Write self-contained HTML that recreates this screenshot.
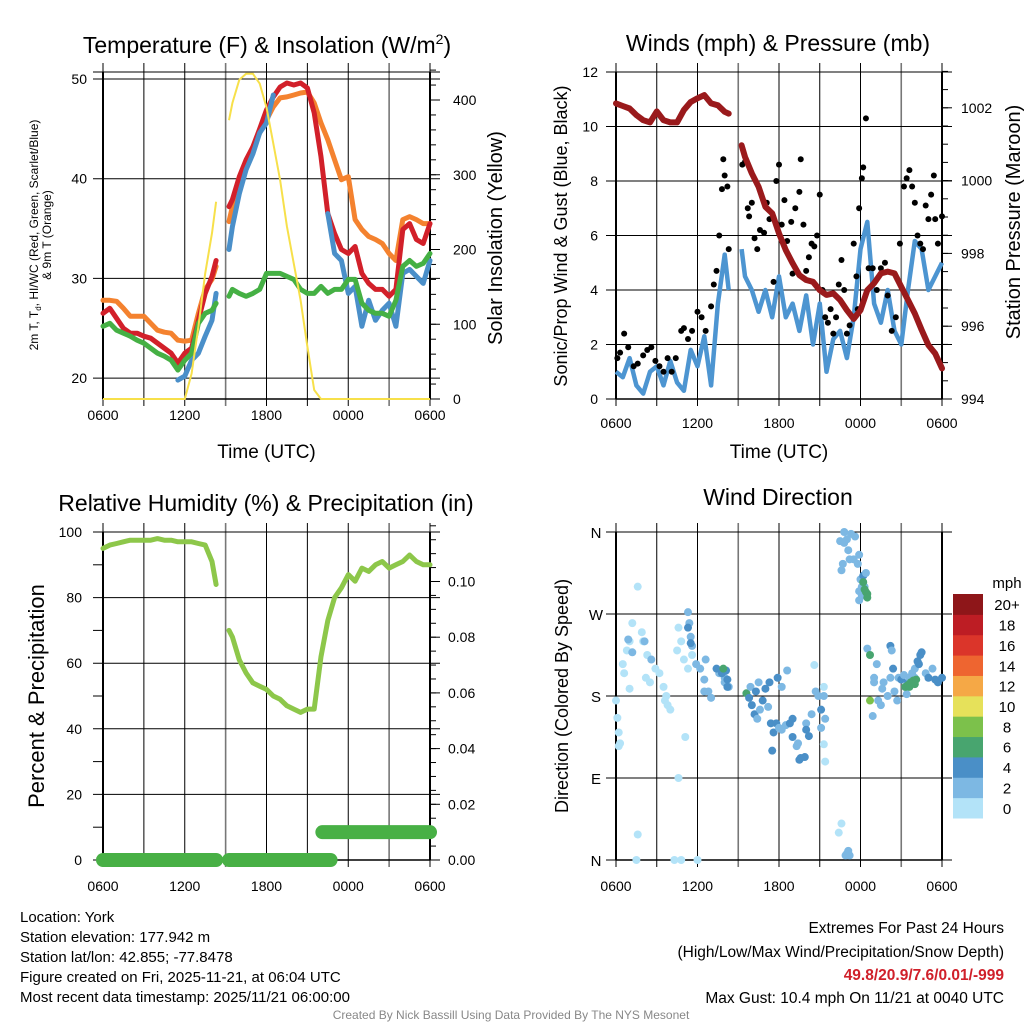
<!DOCTYPE html>
<html><head><meta charset="utf-8">
<style>
html,body{margin:0;padding:0;background:#fff;}
svg{display:block;font-family:"Liberation Sans",sans-serif;}
</style></head>
<body>
<svg id="fig" width="1024" height="1024" viewBox="0 0 1024 1024" xmlns="http://www.w3.org/2000/svg">
<rect width="1024" height="1024" fill="#fff"/>
<g id="g1"></g>
<g id="g2"></g>
<g id="g3"></g>
<g id="g4"></g>
<text x="267" y="53" font-size="23" text-anchor="middle">Temperature (F) &amp; Insolation (W/m<tspan font-size="14" dy="-9">2</tspan><tspan dy="9">)</tspan></text>
<text x="778" y="51" font-size="23" text-anchor="middle">Winds (mph) &amp; Pressure (mb)</text>
<text x="266" y="511" font-size="23" text-anchor="middle">Relative Humidity (%) &amp; Precipitation (in)</text>
<text x="778" y="505" font-size="23" text-anchor="middle">Wind Direction</text>
<g font-size="15">
<text x="20" y="922">Location: York</text>
<text x="20" y="942">Station elevation: 177.942 m</text>
<text x="20" y="962">Station lat/lon: 42.855; -77.8478</text>
<text x="20" y="982">Figure created on Fri, 2025-11-21, at 06:04 UTC</text>
<text x="20" y="1002">Most recent data timestamp: 2025/11/21 06:00:00</text>
</g>
<g font-size="15.5" text-anchor="end">
<text x="1004" y="933">Extremes For Past 24 Hours</text>
<text x="1004" y="957">(High/Low/Max Wind/Precipitation/Snow Depth)</text>
<text x="1004" y="980" fill="#d0202a" font-weight="bold">49.8/20.9/7.6/0.01/-999</text>
<text x="1004" y="1003">Max Gust: 10.4 mph On 11/21 at 0040 UTC</text>
</g>
<text x="511" y="1019" font-size="12" fill="#888" text-anchor="middle">Created By Nick Bassill Using Data Provided By The NYS Mesonet</text>
</svg>
<script>
// ---------- data ----------
const hours = [0,0.5,1,1.5,2,2.5,3,3.5,4,4.5,5,5.5,6,6.5,7,7.5,8,8.3,9.25,9.5,10,10.5,11,11.5,12,12.5,13,13.5,14,14.5,15,15.5,16,16.5,17,17.5,18,18.5,19,19.5,20,20.5,21,21.5,22,22.5,23,23.5,24];
const tempRed = [26.5,27,26,25,24.5,24.5,24.2,24,23.5,23,22.5,21.5,22.5,23,25.8,28.5,30.2,31.8,37.2,37.9,40.2,41.9,43.2,45,46.9,48.2,49.2,49.6,49.4,49.6,49.1,46.6,42.2,36.5,34.5,32.9,32.5,33.2,30.5,29.5,28.9,28.9,28.2,28.9,34.9,35.5,33.9,33.5,35.5];
const temp9m = [27.8,27.8,27.7,27,26.2,26.2,26.2,25.5,24.8,24.6,24.5,23.8,23.7,23.8,26.5,28.9,29.9,31.2,35.7,37.2,39.5,41.5,43.2,44.6,45.9,47.2,48.1,48.2,48.4,48.6,48.7,47.6,45.6,43.9,41.9,39.9,40.2,35.9,34.9,34.2,33.9,33.5,32.5,31.8,35.9,36.2,35.9,35.5,35.5];
const dewpt = [25.2,25.5,24.8,24.5,24.2,23.8,23.5,23,22.5,22.2,21.8,20.8,21.8,22.5,25.5,26.5,26.8,27.5,28.2,28.9,28.5,28.2,28.5,28.9,30.5,30.5,30.5,30.2,29.9,28.9,28.5,28.5,29.2,28.5,28.9,28.9,29.9,29.9,27.5,26.8,26.5,26.5,26.2,27.8,31.2,31.8,31.2,31.5,32.5];
const hiwc = [null,null,null,null,null,null,null,null,null,null,null,19.8,20.2,21.8,22.5,24.2,25.8,28.5,32.9,35.2,38.5,40.9,42.5,44.6,45.6,48.4,null,null,null,null,null,null,null,36.5,32.5,31.8,28.5,29.2,25.2,27.8,25.8,26.8,27.5,25.2,30.5,30.9,30.2,29.5,31.8];
const solar = [0,0,0,0,0,0,0,0,0,0,0,0,0,34,97,168,222,264,373,396,427,435,435,422,390,342,293,231,181,132,70,12,0,0,0,0,0,0,0,0,0,0,0,0,0,0,0,0,0];
const pressure = [1002.12,1002.05,1001.98,1001.8,1001.66,1001.6,1001.9,1001.66,1001.6,1001.6,1001.94,1002.16,1002.26,1002.35,1002.12,1002.07,1001.89,1001.84,1000.97,1000.65,1000.2,999.83,999.28,999.1,998.55,998.09,997.73,997.4,997.27,997.22,996.99,996.86,996.9,996.72,996.44,996.2,996.44,996.99,997.18,997.45,997.5,997.45,997.08,996.72,996.35,995.9,995.48,995.25,994.84];
const windSpd = [1.0,0.8,1.5,0.5,0.2,1.0,1.2,0.5,1.4,0.6,0.3,1.8,1.2,2.3,0.5,3.5,5.3,4.0,5.5,4.5,4.0,3.2,4.0,3.0,4.5,3.0,3.5,2.5,3.8,2.0,3.5,1.0,2.2,2.5,1.5,3.0,5.5,6.5,3.5,2.8,4.0,2.5,2.0,4.0,5.8,5.5,4.0,4.5,5.0];
const rh = [95,96,96.5,97,97.5,97.5,97.5,97.5,98,97.5,97.5,97,97,97,96.5,96,91,84,70,68,61,57,54,53,52,50,49,47,46,45,46,46,62,73,80,83,87,85,89,88,90,91,89,90,91,93,91,90,90];
const gustHours = [0.1,0.3,0.6,0.9,1.3,1.6,2.0,2.3,2.6,2.9,3.2,3.5,3.8,4.1,4.4,4.8,5.0,5.3,5.6,6.0,6.3,6.6,7.0,7.2,7.4,7.6,7.8,7.9,8.0,8.2,8.3,9.3,9.5,9.7,9.8,10.0,10.2,10.4,10.6,10.9,11.1,11.3,11.6,11.8,12.0,12.2,12.4,12.6,12.9,13.0,13.2,13.5,13.6,13.8,14.0,14.2,14.4,14.6,14.8,15.0,15.2,15.4,15.6,15.8,16.0,16.2,16.4,16.6,16.8,17.0,17.2,17.5,17.7,17.8,17.9,18.1,18.2,18.4,18.6,18.9,19.2,19.5,19.8,20.0,20.3,20.6,20.9,21.2,21.4,21.6,21.8,22.0,22.2,22.4,22.6,22.8,23.0,23.2,23.4,23.5,23.7,24.0];
const gustVals = [1.5,1.7,2.4,1.9,1.2,1.3,1.6,1.8,1.9,1.4,1.2,1.0,1.5,1.0,1.5,2.5,2.6,2.2,2.5,3.2,3.0,2.5,3.4,4.2,4.7,6.0,7.7,8.8,8.2,7.8,5.5,8.6,8.7,7.0,6.7,7.2,5.9,5.5,6.2,6.1,7.2,6.6,4.3,8.0,8.6,6.4,7.3,5.8,6.5,4.6,7.0,7.6,8.8,6.4,4.7,5.2,5.7,5.6,6.0,7.5,4.0,3.0,2.8,3.3,2.4,3.0,4.2,5.1,4.0,2.4,2.7,5.7,4.5,3.3,7.0,8.1,8.5,10.3,4.8,4.8,4.0,4.8,5.0,3.8,2.5,3.0,5.7,7.8,8.1,8.4,7.8,7.2,6.0,5.7,5.5,7.1,6.6,7.5,8.2,6.6,5.7,6.7];
const precipSegStart = [0,9.25,16.1];
const precipSegEnd = [8.3,16.7,24];
const precipSegVal = [0,0,0.01];
const dirHours = [0,0.1,0.2,0.3,0.2,0.5,0.6,0.8,1.0,1.2,0.9,1.2,1.0,1.6,1.9,2.0,2.3,2.2,2.5,2.9,3.2,3.5,3.7,3.8,3.6,4.0,4.5,4.6,4.8,5.0,5.3,5.6,5.1,1.6,1.5,4.3,4.8,6.0,4.6,2.6,2.1,5.3,5.4,5.5,5.6,5.9,6.2,6.5,6.8,7.0,6.6,7.6,7.8,8.0,8.3,8.0,5.3,5.5,7.4,7.8,8.1,8.2,8.2,6.5,7.9,9.6,9.8,10.0,10.2,10.4,10.6,10.8,11,11.2,11.4,11.6,11.8,12,12.2,12.5,12.8,13.0,13.3,13.5,13.6,14.0,14.4,14.7,14.9,15.3,15.1,15.4,15.1,11.5,12.2,11.9,12.6,9.9,10.5,13.0,13.4,14.2,15.3,15.4,14.6,15.3,14.0,13.9,11.3,10.3,16.8,16.5,16.8,17.0,17.3,17.6,17.1,17.5,17.8,17.9,17.2,16.7,16.6,18.0,17.9,18.1,18.1,17.9,18.2,18.4,18.3,18.5,18.2,18.3,18.4,18.5,16.4,16.6,16.9,17.0,17.1,17.2,18.5,18.7,18.7,18.9,19.0,19.0,19.2,19.3,19.5,19.6,19.7,20.2,20.3,20.4,20.2,20.0,20.8,21.0,21.3,21.5,21.8,22.0,22.2,22.4,22.5,22.3,22.8,23.0,23.3,23.5,23.7,24,21.2,20.5,20.7,21.4,21.6,21.8,22.0,21.3,21.5,21.7,21.9,22.1,21.6,22.0];
const dirDeg = [175,156,140,128,125,215,205,230,240,260,242,228,188,300,250,240,225,200,195,210,205,190,180,170,175,165,230,255,240,220,210,225,135,28,0,0,0,0,90,220,240,272,260,245,235,215,210,198,185,178,220,205,208,200,190,195,255,238,210,205,208,198,190,185,210,183,178,170,160,155,165,175,188,168,150,140,150,145,143,148,150,135,125,110,112,150,160,185,180,180,165,155,145,120,190,200,208,190,195,155,128,136,127,108,214,190,143,113,195,185,360,350,348,352,358,355,340,330,325,335,330,325,318,308,295,300,290,285,312,315,300,292,305,297,294,288,30,40,5,7,10,5,232,225,175,158,200,195,215,175,170,188,195,235,230,210,200,180,200,198,190,195,205,210,218,225,228,215,205,200,210,198,195,200,203,185,175,182,200,194,200,190,192,195,197,198,190,193];
const dirSpd = [0.5,0.5,0.5,0.5,0.5,0.5,0.5,0.5,0.5,0.5,3,3,0.5,0.5,0.5,0.5,0.5,0.5,0.5,0.5,0.5,0.5,0.5,0.5,0.5,0.5,0.5,0.5,0.5,0.5,0.5,0.5,0.5,0.5,0.5,0.5,0.5,0.5,0.5,3,3,3,3,3,3,3,3,3,3,3,3,3,3,3,3,3,5,5,5,5,5,5,5,3,7,7,5,5,5,3,3,5,5,3,5,5,5,3,3,3,5,5,3,5,5,3,3,3,3,3,5,3,3,5,3,5,3,3,3,5,3,5,0.5,0.5,0.5,0.5,5,5,5,5,3,3,3,3,3,3,3,3,3,3,3,3,3,3,3,3,3,3,5,3,3,7,7,7,7,7,0.5,0.5,3,3,3,3,3,7,9,3,3,3,3,3,3,3,3,5,3,5,3,3,3,5,5,5,3,3,5,5,5,5,3,5,3,5,5,5,3,3,3,3,3,3,3,7,7,7,7,7,7,7];
const tempTicks = [20,30,40,50];
const solarTicks = [0,100,200,300,400];
const windTicks = [0,2,4,6,8,10,12];
const presTicks = [994,996,998,1000,1002];
const rhTicks = [0,20,40,60,80,100];
const precipTicks = [0,0.02,0.04,0.06,0.08,0.10];
const timeLabels = ['0600','1200','1800','0000','0600'];
const dirLabels = ['N','E','S','W','N'];
const cbarLabels = ['0','2','4','6','8','10','12','14','16','18','20+'];
const cbarColors = ['#b3e3f8','#7db8e3','#4a8fc7','#48a56f','#7cc14b','#e6e15a','#f5a846','#ee6530','#db352a','#bd1d24','#8e1619'];

// ---------- helpers ----------
const NS='http://www.w3.org/2000/svg';
function mk(parent,tag,attrs){const e=document.createElementNS(NS,tag);for(const k in attrs)e.setAttribute(k,attrs[k]);parent.appendChild(e);return e;}
function txt(parent,x,y,s,size,anchor,extra){const t=mk(parent,'text',Object.assign({x:x,y:y,'font-size':size,'text-anchor':anchor||'start'},extra||{}));t.textContent=s;return t;}
function linPath(xs,ys,fx,fy){let d='',pen=false;for(let i=0;i<xs.length;i++){if(ys[i]===null||ys[i]===undefined){pen=false;continue;}if(i>0&&xs[i]-xs[i-1]>0.7)pen=false;d+=(pen?'L':'M')+fx(xs[i]).toFixed(1)+' '+fy(ys[i]).toFixed(1);pen=true;}return d;}

function frame(g,L,R,T,B,xh,gridY){
  for(let h=0;h<=24;h+=3){const x=xh(h);const gray=(h===9||h===21);
    const ln=mk(g,'line',{x1:x,y1:T-9,x2:x,y2:B+7,stroke:gray?'#777':'#000','stroke-width':gray?1.6:1});
    
    }
  gridY.forEach(y=>{const ln=mk(g,'line',{x1:L-10,y1:y,x2:R+10,y2:y,stroke:'#000','stroke-width':1});
    
    });
  mk(g,'line',{x1:L,y1:T,x2:L,y2:B,stroke:'#000','stroke-width':2});
  mk(g,'line',{x1:R,y1:T,x2:R,y2:B,stroke:'#000','stroke-width':2});
  mk(g,'line',{x1:L,y1:B,x2:R,y2:B,stroke:'#000','stroke-width':1.5});
}
function timeAxis(g,xh,y,titleY){
  [0,6,12,18,24].forEach((h,i)=>{const t=txt(g,xh(h),y,timeLabels[i],14,'middle');
    
    });
  if(titleY){const t=txt(g,(xh(0)+xh(24))/2,titleY,'Time (UTC)',19,'middle');
    
    }
}
function rightMinor(g,R,fy,lo,hi,step){for(let v=lo;v<=hi+1e-9;v+=step){const y=fy(v);mk(g,'line',{x1:R,y1:y,x2:R+6,y2:y,stroke:'#000','stroke-width':1});}}

// ---------- panel 1: temperature ----------
(function(){
  const g=document.getElementById('g1');
  const L=103,R=430,T=72,B=399;
  const xh=h=>L+(R-L)*h/24;
  const yT=v=>79+(50-v)*9.97;
  const yS=v=>399-v*0.7475;
  frame(g,L,R,T,B,xh,tempTicks.map(yT).concat([T]));
  rightMinor(g,R,yS,0,440,20);
  tempTicks.forEach(v=>{const t=txt(g,L-16,yT(v)+5,String(v),14,'end');});
  solarTicks.forEach(v=>{mk(g,'line',{x1:R,y1:yS(v),x2:R+10,y2:yS(v),stroke:'#000'});const t=txt(g,R+23,yS(v)+5,String(v),14,'start');});
  const series=[[temp9m,'#f4822f','nine-meter-temp-line'],[tempRed,'#d2202a','two-meter-temp-line'],[hiwc,'#4a8fc9','heat-index-windchill-line'],[dewpt,'#45b044','dewpoint-line']];
  series.forEach(s=>{const p=mk(g,'path',{d:linPath(hours,s[0],xh,yT),fill:'none',stroke:s[1],'stroke-width':5,'stroke-linejoin':'round','stroke-linecap':'round'});
    
    });
  const sp=mk(g,'path',{d:linPath(hours,solar,xh,yS),fill:'none',stroke:'#f7e04a','stroke-width':2});
  
  
  timeAxis(g,xh,420,458);
  const yl=mk(g,'text',{transform:'translate(38,235) rotate(-90)','font-size':12,'text-anchor':'middle'});
  
  
  yl.innerHTML='<tspan x="0" dy="0">2m T, T<tspan font-size="8" dy="3">d</tspan><tspan dy="-3">, HI/WC (Red, Green, Scarlet/Blue)</tspan></tspan><tspan x="0" dy="13">&amp; 9m T (Orange)</tspan>';
  const yr=txt(g,0,0,'Solar Insolation (Yellow)',20,'middle',{transform:'translate(502,238) rotate(-90)'});
  
  
})();

// ---------- panel 2: winds ----------
(function(){
  const g=document.getElementById('g2');
  const L=616,R=942,T=72,B=399;
  const xh=h=>L+(R-L)*h/24;
  const yW=v=>399-v*27.25;
  const yP=v=>399-(v-994)*36.4;
  frame(g,L,R,T,B,xh,windTicks.map(yW));
  rightMinor(g,R,yP,994,1003,0.5);
  windTicks.forEach(v=>{const t=txt(g,L-18,yW(v)+5,String(v),14,'end');});
  presTicks.forEach(v=>{mk(g,'line',{x1:R,y1:yP(v),x2:R+10,y2:yP(v),stroke:'#000'});const t=txt(g,R+19,yP(v)+5,String(v),14,'start');});
  const wp=mk(g,'path',{d:linPath(hours,windSpd,xh,yW),fill:'none',stroke:'#4d95d1','stroke-width':4.5,'stroke-linejoin':'round'});
  
  
  gustHours.forEach((h,i)=>{const c=mk(g,'circle',{cx:xh(h),cy:yW(gustVals[i]),r:3,fill:'#000'});
    
    });
  const pp=mk(g,'path',{d:linPath(hours,pressure,xh,yP),fill:'none',stroke:'#9a1a1c','stroke-width':6,'stroke-linejoin':'round','stroke-linecap':'round'});
  
  
  timeAxis(g,xh,428,458);
  const yl=txt(g,0,0,'Sonic/Prop Wind & Gust (Blue, Black)',18,'middle',{transform:'translate(567,236) rotate(-90)'});
  
  
  const yr=txt(g,0,0,'Station Pressure (Maroon)',20,'middle',{transform:'translate(1020,222) rotate(-90)'});
  
  
})();

// ---------- panel 3: humidity ----------
(function(){
  const g=document.getElementById('g3');
  const L=103,R=430,T=532,B=860;
  const xh=h=>L+(R-L)*h/24;
  const yR=v=>860-v*3.28;
  const yQ=v=>860-v*2785;
  frame(g,L,R,T,B,xh,rhTicks.map(yR));
  rhTicks.forEach(v=>{mk(g,'line',{x1:L-10,y1:yR(v+10),x2:L,y2:yR(v+10),stroke:'#000'});const t=txt(g,L-21,yR(v)+5,String(v),14,'end');});
  rightMinor(g,R,yQ,0,0.12,0.005);
  precipTicks.forEach(v=>{mk(g,'line',{x1:R,y1:yQ(v),x2:R+10,y2:yQ(v),stroke:'#000'});const t=txt(g,R+18,yQ(v)+5,v.toFixed(2),14,'start');});
  const rp=mk(g,'path',{d:linPath(hours,rh,xh,yR),fill:'none',stroke:'#8dc74a','stroke-width':5,'stroke-linejoin':'round','stroke-linecap':'round'});
  
  
  precipSegStart.forEach((s,i)=>{const l=mk(g,'line',{x1:xh(s),y1:yQ(precipSegVal[i]),x2:xh(precipSegEnd[i]),y2:yQ(precipSegVal[i]),stroke:'#48b045','stroke-width':14,'stroke-linecap':'round'});
    
    });
  timeAxis(g,xh,891,null);
  const yl=txt(g,0,0,'Percent & Precipitation',22,'middle',{transform:'translate(44,696) rotate(-90)'});
  
  
})();

// ---------- panel 4: wind direction ----------
(function(){
  const g=document.getElementById('g4');
  const L=616,R=942,T=532,B=860;
  const xh=h=>L+(R-L)*h/24;
  const yD=v=>860-v*(328/360);
  frame(g,L,R,T,B,xh,[0,90,180,270,360].map(yD));
  [0,90,180,270,360].forEach((v,i)=>{const t=txt(g,596,yD(v)+6,dirLabels[i],15,'middle');});
  const col=s=>cbarColors[Math.min(10,Math.max(0,Math.floor(s/2)))];
  dirHours.forEach((h,i)=>{const c=mk(g,'circle',{cx:xh(h),cy:yD(dirDeg[i]),r:4,fill:col(dirSpd[i])});
    
    });
  timeAxis(g,xh,891,null);
  const yl=txt(g,0,0,'Direction (Colored By Speed)',18,'middle',{transform:'translate(568,696) rotate(-90)'});
  
  
  const cb=mk(g,'g',{});
  
  
  const bh=224/11;
  cbarColors.forEach((c,i)=>{const y=818-(i+1)*bh;mk(cb,'rect',{x:953,y:y,width:30,height:bh+0.5,fill:c});
    const t=txt(cb,1007,y+bh/2+6,cbarLabels[i],15,'middle');
    
    });
  txt(cb,1007,588,'mph',15,'middle');
})();
</script>
</body></html>
